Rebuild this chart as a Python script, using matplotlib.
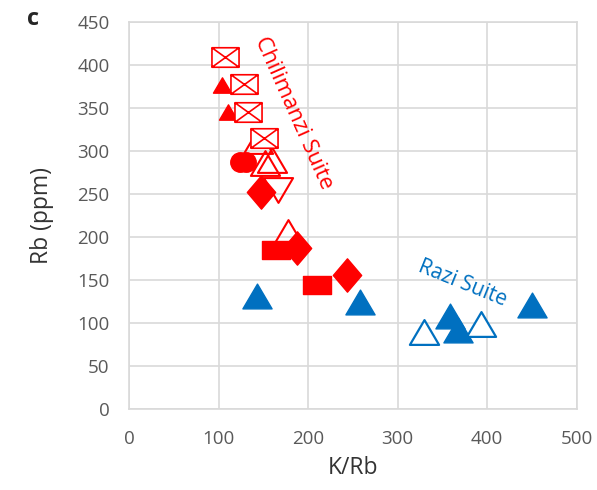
import matplotlib.pyplot as plt
from matplotlib.path import Path
import numpy as np

plt.rcParams['font.family'] = ['Open Sans', 'DejaVu Sans']

# Chilimanzi Suite (red)
xsq_open_x = [107, 128, 133, 151]
xsq_open_y = [409, 378, 346, 315]
tri_small_x = [104, 111]
tri_small_y = [377, 345]
tri_open_x = [144, 152, 160, 178]
tri_open_y = [312, 286, 290, 206]
tri_down_x = [166]
tri_down_y = [255]
circ_x = [124, 131]
circ_y = [287, 287]
diam_x = [147, 188, 243]
diam_y = [253, 187, 156]
sq_x = [164, 210]
sq_y = [185, 144]

# Razi Suite (blue)
razi_fill_x = [143, 258, 450, 358, 367]
razi_fill_y = [132, 125, 121, 108, 92]
razi_open_x = [330, 393]
razi_open_y = [90, 99]

red = '#FF0000'
blue = '#0070C0'


def poly(pts):
    return Path(pts + [pts[0]], [Path.MOVETO] + [Path.LINETO] * (len(pts) - 1) + [Path.CLOSEPOLY])


# custom marker shapes (excel-like, wider than tall)
w, h = 1.0, 0.72
xbox = Path([(-w, -h), (w, -h), (w, h), (-w, h), (-w, -h),
             (-w, -h), (w, h), (-w, h), (w, -h)],
            [Path.MOVETO, Path.LINETO, Path.LINETO, Path.LINETO, Path.CLOSEPOLY,
             Path.MOVETO, Path.LINETO, Path.MOVETO, Path.LINETO])
rect = poly([(-1, -0.68), (1, -0.68), (1, 0.68), (-1, 0.68)])
tri = poly([(-1, -0.85), (1, -0.85), (0, 0.85)])
tri_dn = poly([(-1, 0.85), (1, 0.85), (0, -0.85)])
diam = poly([(0, 1), (0.85, 0), (0, -1), (-0.85, 0)])

fig = plt.figure(figsize=(5.97, 4.90), dpi=100)
ax = fig.add_axes([0.216, 0.165, 0.750, 0.790])

ax.plot(razi_fill_x, razi_fill_y, ls='none', marker=tri, ms=21, mfc=blue, mec=blue, zorder=3)
ax.plot(razi_open_x, razi_open_y, ls='none', marker=tri, ms=21, mfc='white', mec=blue, mew=1.6, zorder=3)

ax.plot(tri_small_x, tri_small_y, ls='none', marker=tri, ms=13, mfc=red, mec=red, zorder=3)
ax.plot(xsq_open_x, xsq_open_y, ls='none', marker=xbox, ms=19.5, mfc='white', mec=red, mew=1.2, zorder=4)
ax.plot(tri_open_x, tri_open_y, ls='none', marker=tri, ms=21, mfc='none', mec=red, mew=1.5, zorder=3)
ax.plot(tri_down_x, tri_down_y, ls='none', marker=tri_dn, ms=21, mfc='none', mec=red, mew=1.5, zorder=3)
ax.plot(circ_x, circ_y, ls='none', marker='o', ms=14, mfc=red, mec=red, zorder=3)
ax.plot(diam_x, diam_y, ls='none', marker=diam, ms=24, mfc=red, mec=red, zorder=3)
ax.plot(sq_x, sq_y, ls='none', marker=rect, ms=19.5, mfc=red, mec=red, zorder=3)

ax.set_xlim(0, 500)
ax.set_ylim(0, 450)
ax.set_xticks(np.arange(0, 501, 100))
ax.set_yticks(np.arange(0, 451, 50))
ax.grid(True, color='#d9d9d9', lw=1.2, zorder=0)
ax.set_axisbelow(True)
for s in ax.spines.values():
    s.set_color('#d9d9d9')
    s.set_linewidth(1.2)
ax.tick_params(length=0, labelsize=13.5, colors='#595959')
ax.tick_params(axis='y', pad=14)
ax.tick_params(axis='x', pad=15)

ax.set_xlabel('K/Rb', fontsize=16.5, color='#333333', labelpad=6)
ax.set_ylabel('Rb (ppm)', fontsize=16.5, color='#333333', labelpad=17)

ax.text(184, 344, 'Chilimanzi Suite', color=red, fontsize=16, rotation=-66,
        ha='center', va='center', rotation_mode='anchor')
ax.text(372, 146, 'Razi Suite', color=blue, fontsize=15, rotation=-22,
        ha='center', va='center', rotation_mode='anchor')

fig.text(33 / 597, 1 - 19 / 490, 'c', fontsize=17, fontweight='bold', color='#262626',
         ha='center', va='center')

fig.savefig('out.png', dpi=100)
